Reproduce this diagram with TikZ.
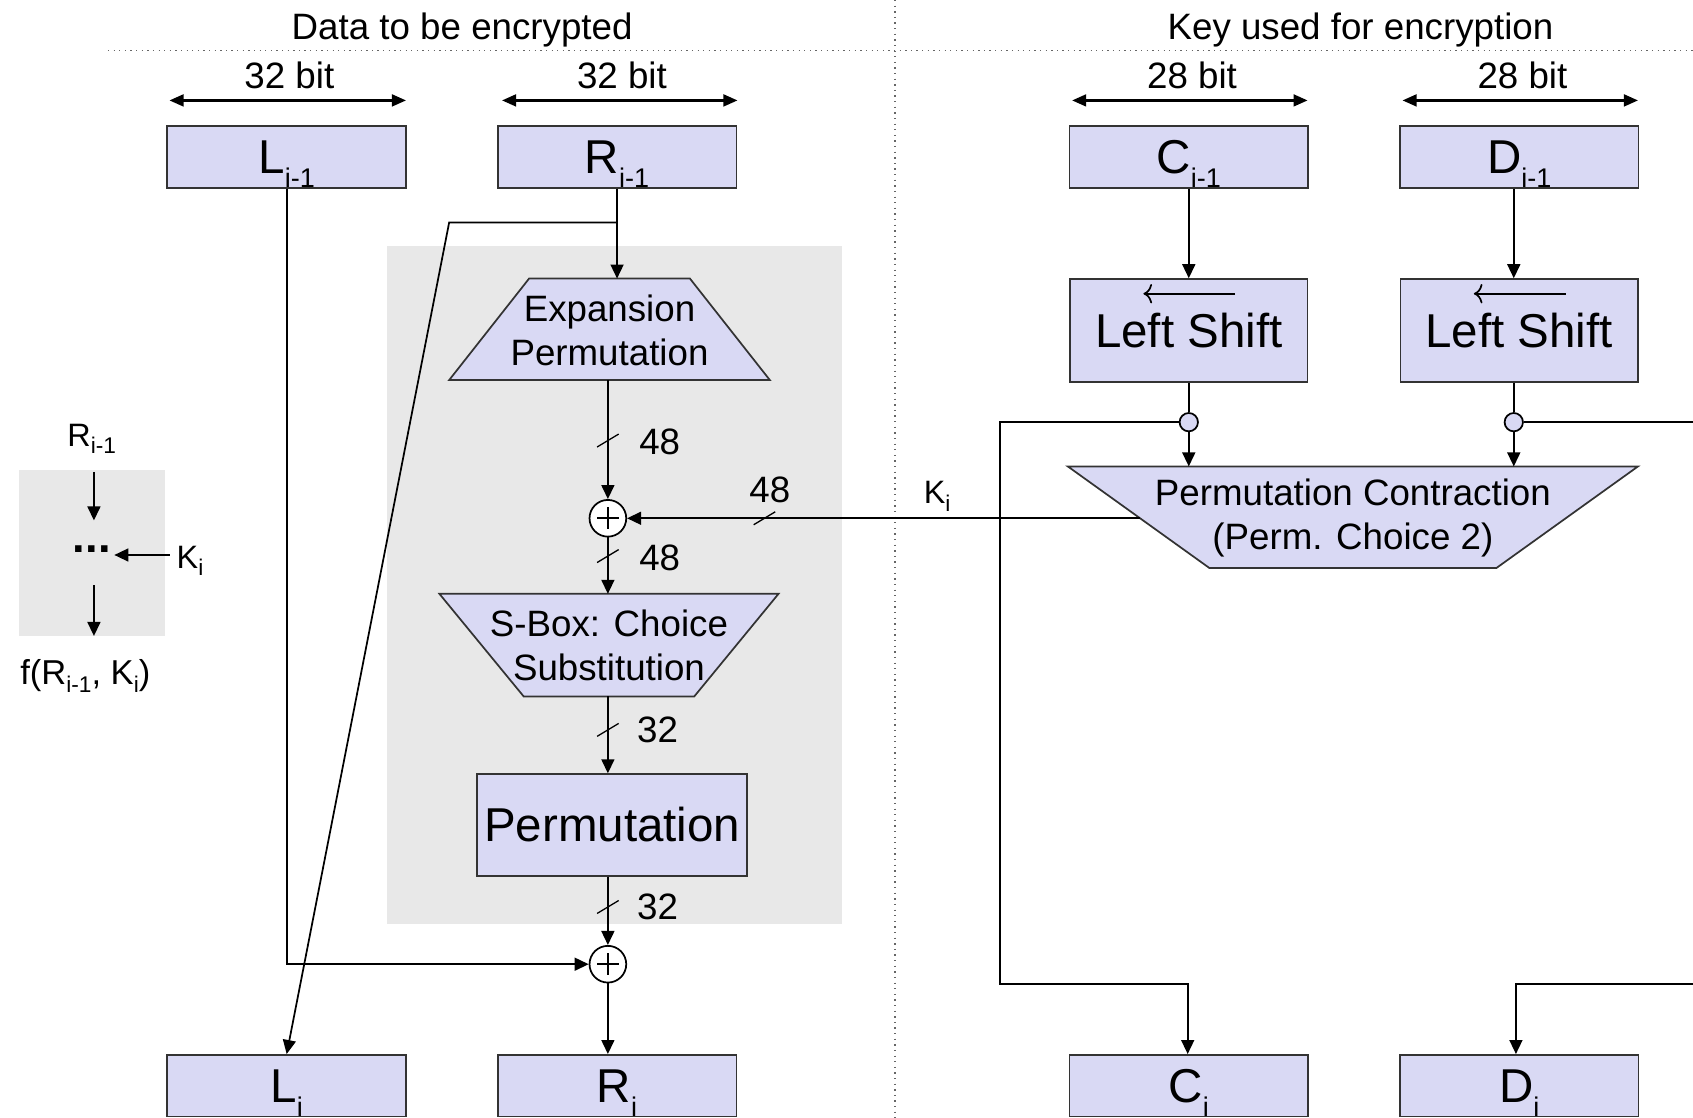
\documentclass[tikz,border=0pt]{standalone}
\usepackage{fontspec}
\setmainfont{Liberation Sans}
\usetikzlibrary{arrows.meta,calc}
\definecolor{boxfill}{HTML}{D9D9F4}
\definecolor{boxdraw}{HTML}{333333}
\definecolor{panel}{HTML}{E8E8E8}
\newcommand{\bigsub}[2]{#1\raisebox{-6.5pt}[0pt][0pt]{\fontsize{12.5}{12.5}\selectfont #2}}
\newcommand{\smsub}[2]{#1\raisebox{-3.5pt}[0pt][0pt]{\fontsize{10.5}{10.5}\selectfont #2}}
\newcommand{\tickat}[1]{\draw[tickmark] ($(#1)+(-10,6)$) -- ($(#1)+(10,-6)$);}
\begin{document}
\begin{tikzpicture}[x=0.5pt,y=-0.5pt,
  line/.style={line width=0.8pt,black},
  arr/.style={-{Triangle[length=6.5pt,width=6pt]}},
  regbox/.style={draw=boxdraw,fill=boxfill,line width=0.8pt,minimum width=110.5pt,minimum height=28.5pt,inner sep=0pt,font=\fontsize{22}{26}\selectfont},
  shiftbox/.style={regbox,minimum width=110pt,minimum height=47.5pt},
  permbox/.style={regbox,minimum width=125pt,minimum height=47pt},
  trap/.style={draw=boxdraw,fill=boxfill,line width=0.8pt},
  lbl/.style={font=\fontsize{17}{20.5}\selectfont,inner sep=0pt,align=center},
  klbl/.style={font=\fontsize{15}{18}\selectfont,inner sep=0pt},
  xorc/.style={circle,draw=black,fill=white,line width=0.8pt,minimum size=17pt,inner sep=0pt},
  junc/.style={circle,draw=black,fill=boxfill,line width=0.8pt,minimum size=8.5pt,inner sep=0pt},
  tickmark/.style={line width=0.6pt},
  widtharr/.style={{Triangle[length=6.5pt,width=5.5pt]}-{Triangle[length=6.5pt,width=5.5pt]},line width=1pt},
  sepline/.style={dotted,line width=0.6pt,black!60},
  shiftarr/.style={line width=0.8pt,-{To[length=4pt,width=9pt]}}
]
\useasboundingbox (0,0) rectangle (1568,1035);

% separators
\draw[sepline] (100,47) -- (1568,47);
\draw[sepline] (829,0) -- (829,1035);

% titles
\node[lbl,anchor=base] (t1) at (428,37) {Data to be encrypted};
\node[lbl,anchor=base] (t2) at (1260,37) {Key used for encryption};

% width arrows
\coordinate (wa1) at (157,93); \coordinate (wa2) at (376,93);
\coordinate (wb1) at (465,93); \coordinate (wb2) at (683,93);
\coordinate (wc1) at (993,93); \coordinate (wc2) at (1211,93);
\coordinate (wd1) at (1299,93); \coordinate (wd2) at (1517,93);
\draw[widtharr] (wa1) -- (wa2);
\draw[widtharr] (wb1) -- (wb2);
\draw[widtharr] (wc1) -- (wc2);
\draw[widtharr] (wd1) -- (wd2);
\node[lbl,anchor=base] (wl1) at (268,82) {32 bit};
\node[lbl,anchor=base] (wl2) at (576,82) {32 bit};
\node[lbl,anchor=base] (wl3) at (1104,82) {28 bit};
\node[lbl,anchor=base] (wl4) at (1410,82) {28 bit};

% gray panel
\fill[panel] (358,228) rectangle (780,856);

% inset
\fill[panel] (18,435) rectangle (153,589);
\node[klbl] (iR) at (85,403) {\smsub{R}{i-1}};
\coordinate (ia1) at (87,437); \coordinate (ia2) at (87,482);
\coordinate (ia3) at (87,542); \coordinate (ia4) at (87,589);
\node[font=\fontsize{21}{21}\selectfont\bfseries,inner sep=0pt] (idots) at (85,509) {...};
\node[klbl] (iK) at (176,516) {\smsub{K}{i}};
\node[font=\fontsize{16}{19}\selectfont,inner sep=0pt,anchor=base] (iF) at (79,634) {f(\smsub{R}{i-1}, \smsub{K}{i})};
\draw[line,arr] (ia1) -- (ia2);
\draw[line,arr] (ia3) -- (ia4);
\draw[line,arr] ($(iK.west)+(-6,-2)$) -- ($(idots.east)+(3,5)$);

% data boxes
\node[regbox] (L1) at (265.5,145.5) {\bigsub{L}{i-1}};
\node[regbox] (R1) at (571.5,145.5) {\bigsub{R}{i-1}};
\node[regbox] (L2) at (265.5,1005.5) {\bigsub{L}{i}};
\node[regbox] (R2) at (571.5,1005.5) {\bigsub{R}{i}};

% f function
\draw[trap] (490,258) -- (639,258) -- (713,352) -- (416,352) -- cycle;
\node[lbl] (exp) at (564.5,306) {Expansion\\Permutation};
\coordinate (expN) at (571.5,258);
\coordinate (expS) at (563,352);
\node[xorc] (x1) at (563,480) {};
\draw[line] ($(x1.center)+(-10,0)$) -- ($(x1.center)+(10,0)$);
\draw[line] ($(x1.center)+(0,-10)$) -- ($(x1.center)+(0,10)$);
\draw[trap] (407,550) -- (721,550) -- (643,645) -- (485,645) -- cycle;
\node[lbl] (sb) at (564,598) {S-Box: Choice\\Substitution};
\coordinate (sbN) at (563,550);
\coordinate (sbS) at (563,645);
\node[permbox] (perm) at (567,764) {Permutation};
\node[xorc] (x2) at (563,893) {};
\draw[line] ($(x2.center)+(-10,0)$) -- ($(x2.center)+(10,0)$);
\draw[line] ($(x2.center)+(0,-10)$) -- ($(x2.center)+(0,10)$);

% connectors data side
\coordinate (br) at (571.5,206);
\coordinate (bend) at (416,206);
\draw[line] (R1.south) -- (br);
\draw[line,arr] (br) -- (expN);
\draw[line,arr] (br) -- (bend) -- (L2.north);
\draw[line,arr] (L1.south) |- (x2.west);
\draw[line,arr] (expS) -- (x1.north);
\draw[line,arr] (x1.south) -- (sbN);
\draw[line,arr] (sbS) -- (sbS |- perm.north);
\draw[line,arr] (x2 |- perm.south) -- (x2.north);
\draw[line,arr] (x2.south) -- (x2.south |- R2.north);

% bit widths
\coordinate (tk1) at (563,408); \tickat{tk1}
\coordinate (tk2) at (563,515); \tickat{tk2}
\coordinate (tk3) at (563,676); \tickat{tk3}
\coordinate (tk4) at (563,840); \tickat{tk4}
\coordinate (tk5) at (708,480); \tickat{tk5}
\node[lbl] (n1) at (611,409) {48};
\node[lbl] (n2) at (611,517) {48};
\node[lbl] (n3) at (609,676) {32};
\node[lbl] (n4) at (609,840) {32};
\node[lbl] (n5) at (713,454) {48};
\node[klbl] (kmain) at (868,456) {\smsub{K}{i}};

% key side
\node[regbox] (C1) at (1101,145.5) {\bigsub{C}{i-1}};
\node[regbox] (D1) at (1407,145.5) {\bigsub{D}{i-1}};
\node[shiftbox] (LS1) at (1101,306) {Left Shift};
\node[shiftbox] (LS2) at (1407,306) {Left Shift};
\node[regbox] (C2) at (1101,1005.5) {\bigsub{C}{i}};
\node[regbox] (D2) at (1407,1005.5) {\bigsub{D}{i}};
\coordinate (sa1) at (1144,272); \coordinate (sa2) at (1059,272);
\coordinate (sb1) at (1450,272); \coordinate (sb2) at (1365,272);
\draw[shiftarr] (sa1) -- (sa2);
\draw[shiftarr] (sb1) -- (sb2);

\draw[trap] (989,432) -- (1517,432) -- (1386,526) -- (1120,526) -- cycle;
\node[lbl] (pc) at (1253,480) {Permutation Contraction\\(Perm. Choice 2)};
\coordinate (pcL) at (1056,480);
\coordinate (pcT) at (1101,432);

\draw[line,arr] (C1.south) -- (C1.south |- LS1.north);
\draw[line,arr] ($(D1.south)+(-5,0)$) -- ($(D1.south |- LS2.north)+(-5,0)$);
\node[junc] (j1) at (1101,391) {};
\node[junc] (j2) at (1402,391) {};
\draw[line] (LS1.south) -- (j1.north);
\draw[line] ($(LS2.south)+(-5,0)$) -- (j2.north);
\draw[line,arr] (j1.south) -- (j1.south |- pcT);
\draw[line,arr] (j2.south) -- (j2.south |- pcT);
\coordinate (cl1) at (926,391); \coordinate (cl2) at (926,911); \coordinate (cl3) at (1100,911);
\draw[line,arr] (j1.west) -- (cl1) -- (cl2) -- (cl3) -- (cl3 |- C2.north);
\coordinate (dr1) at (1580,391); \coordinate (dr2) at (1580,911); \coordinate (dr3) at (1404,911);
\draw[line] (j2.east) -- (dr1);
\draw[line,arr] (dr2) -- (dr3) -- (dr3 |- D2.north);
\draw[line,arr] (pcL) -- (x1.east);
\end{tikzpicture}
\end{document}
